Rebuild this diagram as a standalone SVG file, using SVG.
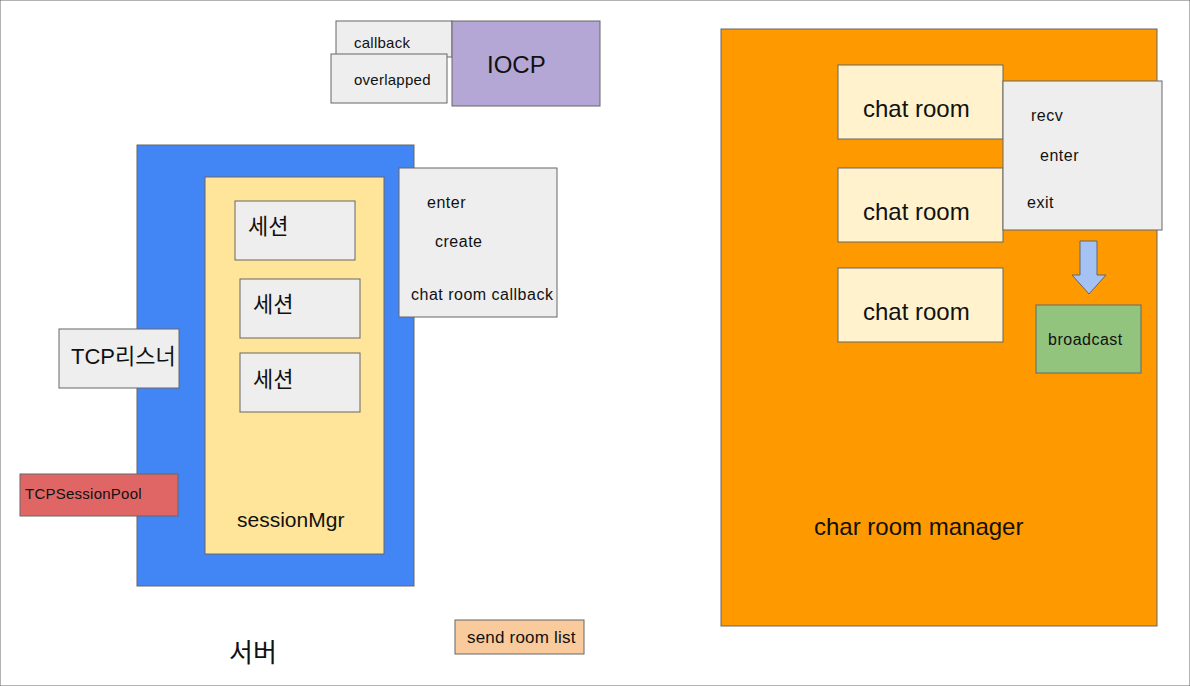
<svg xmlns="http://www.w3.org/2000/svg" width="1190" height="686" viewBox="0 0 1190 686">
<style>
rect{stroke:#666;stroke-width:1}
text{font-family:Arial,"Liberation Sans","Noto Sans CJK KR",sans-serif;fill:#111}
.g{fill:#eeeeee}
.room{fill:#fff2cc}
.s{font-size:15px;letter-spacing:0.25px}
.t{font-size:16px;letter-spacing:0.5px}
.m{font-size:22px}
.l{font-size:24px}
</style>
<rect width="1190" height="686" fill="#fff" stroke="none"/>
<g id="callback"><rect class="g" x="336" y="21" width="116" height="36"/><text class="s" x="354" y="48">callback</text></g>
<g id="overlapped"><rect class="g" x="331" y="54" width="116" height="49"/><text class="s" x="354" y="85">overlapped</text></g>
<g id="iocp"><rect x="452" y="21" width="148" height="85" fill="#b4a7d6"/><text class="l" x="487" y="73">IOCP</text></g>
<g id="server"><rect x="137" y="145" width="277" height="441" fill="#4285f4"/></g>
<g id="sessionMgr"><rect x="205" y="177" width="179" height="377" fill="#ffe599"/><text x="237" y="527" font-size="21">sessionMgr</text></g>
<g id="session1"><rect class="g" x="235" y="201" width="120" height="59"/><text class="m" x="248" y="234">세션</text></g>
<g id="session2"><rect class="g" x="240" y="279" width="120" height="59"/><text class="m" x="253" y="312">세션</text></g>
<g id="session3"><rect class="g" x="240" y="353" width="120" height="59"/><text class="m" x="253" y="387">세션</text></g>
<g id="tcpListener"><rect class="g" x="59" y="329" width="120" height="59"/><text class="m" x="71" y="364">TCP리스너</text></g>
<g id="tcpSessionPool"><rect x="20" y="474" width="158" height="42" fill="#e06666"/><text class="s" x="25" y="499" letter-spacing="0.3">TCPSessionPool</text></g>
<g id="callbacks"><rect class="g" x="399" y="168" width="158" height="149"/><text class="t" x="427" y="208">enter</text><text class="t" x="435" y="247">create</text><text class="t" x="411" y="300">chat room callback</text></g>
<g id="sendRoomList"><rect x="455" y="620" width="129" height="34" fill="#f9cb9c"/><text x="467" y="643" font-size="17" letter-spacing="0.2">send room list</text></g>
<g id="serverLabel"><text x="229" y="662" font-size="26">서버</text></g>
<g id="chatRoomManager"><rect x="721" y="29" width="436" height="597" fill="#ff9900"/><text class="l" x="814" y="535">char room manager</text></g>
<g id="chatRoom1"><rect class="room" x="838" y="65" width="165" height="74"/><text class="l" x="863" y="117">chat room</text></g>
<g id="chatRoom2"><rect class="room" x="838" y="168" width="165" height="74"/><text class="l" x="863" y="220">chat room</text></g>
<g id="chatRoom3"><rect class="room" x="838" y="268" width="165" height="74"/><text class="l" x="863" y="320">chat room</text></g>
<g id="roomEvents"><rect class="g" x="1003" y="81" width="159" height="149"/><text class="t" x="1031" y="121">recv</text><text class="t" x="1040" y="161">enter</text><text class="t" x="1027" y="208">exit</text></g>
<g id="connectors"><path d="M1080 241H1097V275H1106L1089 294L1072 275H1080Z" fill="#a4c2f4" stroke="#666" stroke-width="1"/></g>
<g id="broadcast"><rect x="1036" y="305" width="105" height="68" fill="#93c47d"/><text class="t" x="1048" y="345" letter-spacing="0.6">broadcast</text></g>
</svg>
